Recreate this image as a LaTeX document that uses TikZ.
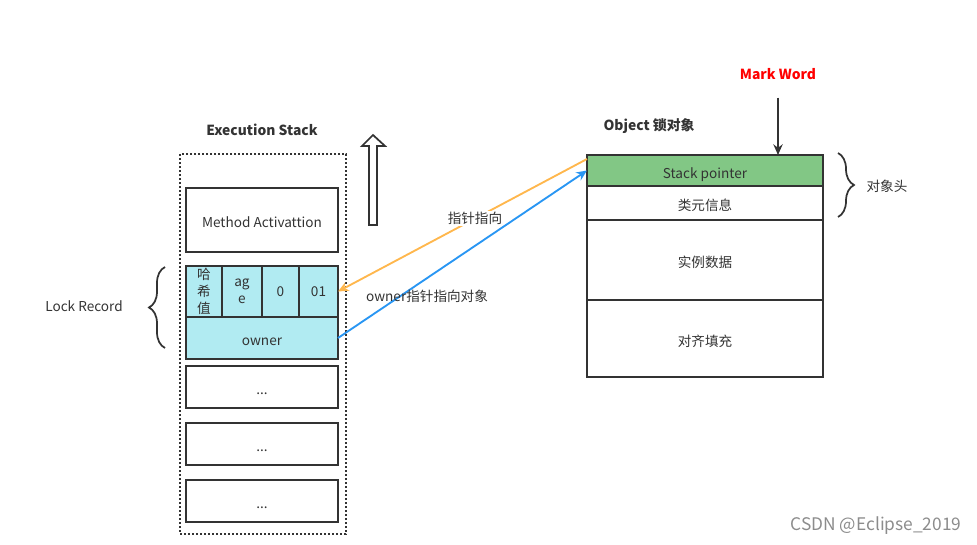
\documentclass[tikz,border=0pt]{standalone}
\usepackage{fontspec}
\setmainfont{Noto Sans CJK SC}
\usetikzlibrary{positioning, arrows.meta, decorations.pathreplacing}
\definecolor{boxline}{RGB}{51,51,51}
\definecolor{lockblue}{RGB}{177,235,242}
\definecolor{spgreen}{RGB}{130,199,133}
\definecolor{ptrorange}{RGB}{255,183,77}
\definecolor{ptrblue}{RGB}{41,150,243}
\definecolor{markred}{RGB}{255,0,0}
\tikzset{
		frame/.style={
			rectangle,
			draw=boxline,
			line width=1.5pt,
			align=center,
			inner sep=0pt,
			outer sep=0pt,
			text=black!80,
			font=\fontsize{10.2}{12.6}\selectfont
		},
		one line/.style={text height=2.5ex, text depth=0.3ex},
		stack box/.style={frame, one line, minimum width=114pt, minimum height=31.5pt, anchor=north west},
		lock cell/.style={frame, fill=lockblue, minimum height=38.25pt, anchor=north west},
		obj row/.style={frame, one line, minimum width=177pt, anchor=north west},
		stack frame/.style={
			rectangle,
			draw=boxline,
			line width=1.5pt,
			dash pattern=on 1.5pt off 1.5pt,
			minimum width=124.5pt,
			minimum height=285pt,
			anchor=north west
		},
		title/.style={font=\fontsize{10.4}{12}\selectfont\bfseries, text=black!80},
		plain text/.style={font=\fontsize{10.2}{12}\selectfont, text=black!80},
		ptr/.style={line width=1.4pt, -{Stealth[length=8pt, width=7pt]}},
		brace line/.style={decorate, decoration={brace, amplitude=12pt}, line width=1.3pt, draw=boxline}
	}
\begin{document}
\begin{tikzpicture}[x=0.75pt, y=-0.75pt]
	\useasboundingbox (0,0) rectangle (977,545);

	% execution stack
	\node[stack frame] (stack) at (179,153) {};
	\node[title] (stacktitle) at (262,130) {Execution Stack};
	\node[stack box, minimum height=48pt] (method) at (186,188) {Method Activattion};
	\node[lock cell, minimum width=27pt] (hash) at (186,266) {哈\\希\\值};
	\node[lock cell, minimum width=30pt, right=0pt of hash] (age) {ag\\e};
	\node[lock cell, minimum width=27.75pt, right=0pt of age] (cell0) {0};
	\node[lock cell, minimum width=29.25pt, right=0pt of cell0] (cell01) {01};
	\node[stack box, fill=lockblue] (owner) at (186,317) {owner};
	\foreach \y [count=\i] in {366,423,480}
		\node[stack box] (dots\i) at (186,\y) {...};

	% lock record brace
	\draw[brace line] (165,348) -- (165,267);
	\node[plain text] (lockrec) at (84,306) {Lock Record};

	% growth direction
	\draw[line width=1.3pt, draw=boxline, fill=white]
		(369,225) -- (369,146) -- (362,146) -- (373,135) -- (385,146) -- (377,146) -- (377,225) -- cycle;

	% object
	\node[title] (objtitle) at (649,126) {Object 锁对象};
	\node[obj row, fill=spgreen, minimum height=23.25pt] (objsp) at (587,155) {Stack pointer};
	\node[obj row, minimum height=25.5pt, below=0pt of objsp] (objcls) {类元信息};
	\node[obj row, minimum height=60pt, below=0pt of objcls] (objinst) {实例数据};
	\node[obj row, minimum height=57.75pt, below=0pt of objinst] (objpad) {对齐填充};

	\node[title, text=markred] (markw) at (778,74) {Mark Word};
	\draw[line width=1.5pt, draw=boxline, -{Stealth[length=8pt, width=7pt]}]
		([yshift=-10pt]markw.south) -- (markw.south |- objsp.north);

	\draw[brace line] (838,153) -- (838,217);
	\node[plain text] (objhead) at (887,186) {对象头};

	% pointers
	\draw[ptr, ptrorange] ([yshift=-3pt]objsp.north west) --
		node[pos=0.45, fill=white, inner sep=1pt, plain text] (lblptr) {指针指向} (cell01.east);
	\draw[ptr, ptrblue] (owner.east) -- (objsp.west);
	\node[plain text] (lblowner) at (427,296) {owner指针指向对象};

	\node[font=\fontsize{13}{15}\selectfont, text=black!45] (csdn) at (876,526) {CSDN @Eclipse\_2019};
\end{tikzpicture}
\end{document}
